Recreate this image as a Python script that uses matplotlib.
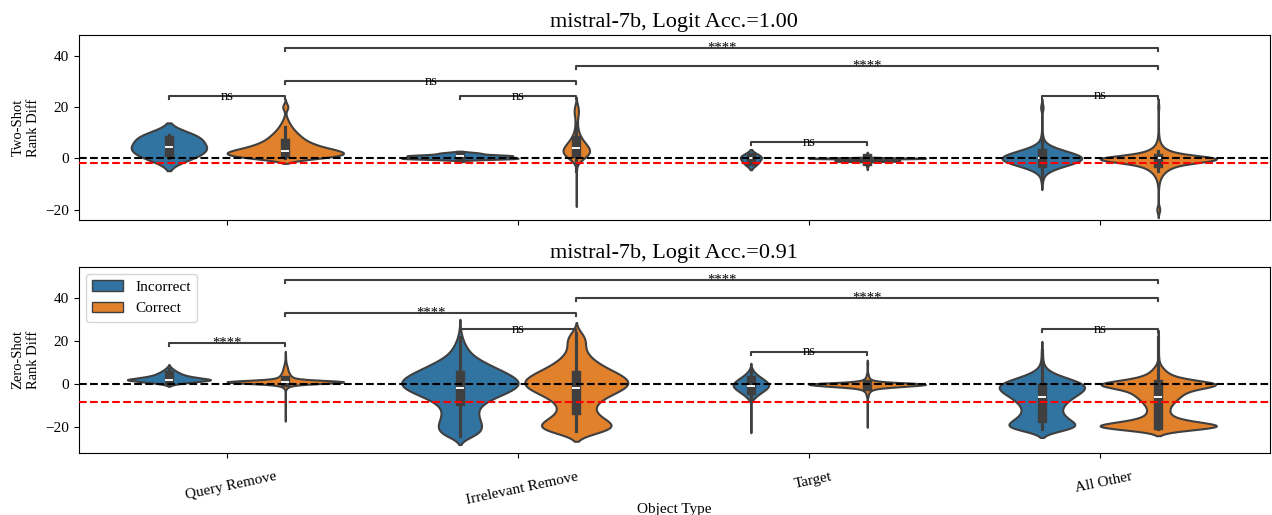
import numpy as np
import pandas as pd
import matplotlib
matplotlib.use("Agg")
import matplotlib.pyplot as plt
import matplotlib.transforms as mtransforms
import seaborn as sns
from matplotlib.patches import Patch

# ---------------- data ----------------
categories = ["Query Remove", "Irrelevant Remove", "Target", "All Other"]
hue_levels = ["Incorrect", "Correct"]
base_colors = ["#1f77b4", "#ff7f0e"]

titles = ["mistral-7b, Logit Acc.=1.00", "mistral-7b, Logit Acc.=0.91"]
ylabels = ["Two-Shot\nRank Diff", "Zero-Shot\nRank Diff"]
ref_lines = [-1.7, -8.5]          # red dashed reference values

# Two-shot (top panel): values and their observation counts
two_qr_inc_vals = [0, 2, 4, 5, 8, 9]
two_qr_inc_counts = [1, 1, 1, 1, 1, 1]
two_qr_cor_vals = [0, 1, 2, 3, 4, 5, 6, 7, 8, 9, 10, 11, 12, 13, 14, 15, 16, 17, 19, 20, 21]
two_qr_cor_counts = [120, 180, 200, 170, 130, 100, 80, 64, 54, 44, 36, 28, 22, 16, 12, 8, 4, 2, 6, 12, 6]
two_ir_inc_vals = [0, 1, 2]
two_ir_inc_counts = [9, 8, 3]
two_ir_cor_vals = [-16, -12, -8, -5, -3, -2, -1, 0, 1, 2, 3, 4, 5, 6, 7, 8, 9, 10, 11, 12,
                   13, 14, 15, 16, 17, 18, 19, 20, 21]
two_ir_cor_counts = [2, 2, 2, 2, 2, 8, 32, 60, 96, 116, 120, 108, 92, 72, 56, 40, 28, 22, 16, 12,
                     10, 9, 9, 12, 16, 20, 20, 16, 10]
two_tg_inc_vals = [-2, 0, 1]
two_tg_inc_counts = [1, 1, 1]
two_tg_cor_vals = [-4, -3, -2, -1, 0, 1, 2]
two_tg_cor_counts = [2, 5, 15, 170, 300, 8, 3]
two_ao_inc_vals = [-10, -9, -8, -7, -6, -5, -4, -3, -2, -1, 0, 1, 2, 3, 4, 5, 6, 7, 8, 9, 10,
                   12, 19, 20, 21]
two_ao_inc_counts = [1, 1, 2, 3, 6, 12, 22, 35, 50, 62, 66, 62, 50, 35, 22, 12, 6, 3, 2, 1, 1,
                     1, 2, 3, 1]
two_ao_cor_vals = [-21, -20, -19, -12, -11, -10, -9, -8, -7, -6, -5, -4, -3, -2, -1, 0, 1, 2, 3,
                   4, 5, 6, 7, 8, 9, 10, 12, 14, 19, 20, 21]
two_ao_cor_counts = [2, 6, 3, 1, 1, 2, 3, 5, 8, 12, 18, 27, 40, 60, 135, 210, 70, 40, 24,
                     14, 8, 5, 3, 2, 1, 1, 1, 1, 1, 2, 1]

# Zero-shot (bottom panel)
zero_qr_inc_vals = [0, 1, 2, 3, 4, 5, 6, 7, 8]
zero_qr_inc_counts = [12, 50, 90, 55, 32, 22, 14, 8, 3]
zero_qr_cor_vals = [-16, -10, -5, -2, -1, 0, 1, 2, 3, 4, 5, 6, 7, 8, 9, 10, 11, 12, 13, 14]
zero_qr_cor_counts = [1, 1, 1, 5, 15, 60, 350, 60, 30, 22, 16, 12, 10, 8, 5, 3, 2, 1, 1, 1]
zero_ir_inc_vals = [-24, -22, -20, -18, -16, -14, -12, -10, -8, -6, -4, -2, 0, 2, 4, 6, 8, 10,
                    12, 14, 16, 18, 20, 22, 24, 26]
zero_ir_inc_counts = [80, 95, 100, 95, 85, 80, 80, 90, 120, 160, 210, 250, 270, 260, 230, 190,
                      150, 110, 75, 50, 35, 25, 15, 10, 4, 3]
zero_ir_cor_vals = [-22, -20, -18, -16, -14, -12, -10, -8, -6, -4, -2, 0, 2, 4, 6, 8, 10, 12,
                    14, 16, 18, 20, 22, 24]
zero_ir_cor_counts = [170, 185, 165, 120, 90, 80, 85, 100, 135, 180, 225, 250, 240, 210, 170,
                      125, 95, 70, 50, 40, 40, 45, 40, 25]
zero_tg_inc_vals = [-20, -14, -7, -6, -5, -4, -3, -2, -1, 0, 1, 2, 3, 4, 5, 6, 7]
zero_tg_inc_counts = [1, 1, 2, 4, 6, 9, 12, 15, 17, 17, 15, 12, 9, 6, 4, 2, 1]
zero_tg_cor_vals = [-19, -15, -10, -6, -5, -4, -3, -2, -1, 0, 1, 2, 3, 4, 5, 7, 9, 10]
zero_tg_cor_counts = [1, 1, 1, 2, 3, 5, 10, 25, 110, 200, 35, 10, 5, 3, 2, 1, 1, 1]
zero_ao_inc_vals = [-21, -20, -18, -16, -14, -12, -10, -8, -6, -4, -2, 0, 2, 4, 6, 8, 10, 12,
                    14, 16]
zero_ao_inc_counts = [60, 112, 104, 80, 64, 60, 68, 80, 100, 124, 144, 140, 100, 50, 20, 8, 4,
                      2, 2, 2]
zero_ao_cor_vals = [-21, -20, -19, -18, -17, -16, -15, -14, -13, -12, -11, -10, -9, -8, -7, -6,
                    -5, -4, -3, -2, -1, 0, 1, 2, 3, 4, 5, 6, 7, 8, 9, 11, 13, 16, 19, 22]
zero_ao_cor_counts = [250, 950, 550, 320, 200, 140, 110, 95, 90, 90, 95, 105, 120, 140, 160,
                      180, 200, 220, 250, 300, 420, 900, 330, 220, 150, 110, 80, 60, 45, 30,
                      20, 10, 6, 4, 3, 2]

# significance annotations: (category, hue, category, hue, label)
two_sig = [("Query Remove", "Incorrect", "Query Remove", "Correct", "ns"),
           ("Query Remove", "Correct", "Irrelevant Remove", "Correct", "ns"),
           ("Irrelevant Remove", "Incorrect", "Irrelevant Remove", "Correct", "ns"),
           ("Irrelevant Remove", "Correct", "All Other", "Correct", "****"),
           ("Query Remove", "Correct", "All Other", "Correct", "****"),
           ("Target", "Incorrect", "Target", "Correct", "ns"),
           ("All Other", "Incorrect", "All Other", "Correct", "ns")]
zero_sig = [("Query Remove", "Incorrect", "Query Remove", "Correct", "****"),
            ("Query Remove", "Correct", "Irrelevant Remove", "Correct", "****"),
            ("Irrelevant Remove", "Incorrect", "Irrelevant Remove", "Correct", "ns"),
            ("Irrelevant Remove", "Correct", "All Other", "Correct", "****"),
            ("Query Remove", "Correct", "All Other", "Correct", "****"),
            ("Target", "Incorrect", "Target", "Correct", "ns"),
            ("All Other", "Incorrect", "All Other", "Correct", "ns")]

# ---------------- build frames ----------------
def frame(groups):
    parts = []
    for cat, lvl, vals, cnts in groups:
        v = np.repeat(np.asarray(vals, dtype=float), cnts)
        parts.append(pd.DataFrame({"Object Type": cat, "Label": lvl, "Rank Diff": v}))
    return pd.concat(parts, ignore_index=True)

df_two = frame([
    ("Query Remove", "Incorrect", two_qr_inc_vals, two_qr_inc_counts),
    ("Query Remove", "Correct", two_qr_cor_vals, two_qr_cor_counts),
    ("Irrelevant Remove", "Incorrect", two_ir_inc_vals, two_ir_inc_counts),
    ("Irrelevant Remove", "Correct", two_ir_cor_vals, two_ir_cor_counts),
    ("Target", "Incorrect", two_tg_inc_vals, two_tg_inc_counts),
    ("Target", "Correct", two_tg_cor_vals, two_tg_cor_counts),
    ("All Other", "Incorrect", two_ao_inc_vals, two_ao_inc_counts),
    ("All Other", "Correct", two_ao_cor_vals, two_ao_cor_counts),
])
df_zero = frame([
    ("Query Remove", "Incorrect", zero_qr_inc_vals, zero_qr_inc_counts),
    ("Query Remove", "Correct", zero_qr_cor_vals, zero_qr_cor_counts),
    ("Irrelevant Remove", "Incorrect", zero_ir_inc_vals, zero_ir_inc_counts),
    ("Irrelevant Remove", "Correct", zero_ir_cor_vals, zero_ir_cor_counts),
    ("Target", "Incorrect", zero_tg_inc_vals, zero_tg_inc_counts),
    ("Target", "Correct", zero_tg_cor_vals, zero_tg_cor_counts),
    ("All Other", "Incorrect", zero_ao_inc_vals, zero_ao_inc_counts),
    ("All Other", "Correct", zero_ao_cor_vals, zero_ao_cor_counts),
])

# ---------------- plot ----------------
plt.rcParams["font.family"] = ["Liberation Serif", "DejaVu Serif"]
plt.rcParams["font.size"] = 11

fig = plt.figure(figsize=(12.72, 5.15), dpi=100)
W, H = 1272.0, 515.0
left, right = 78.7 / W, 1270.0 / W
ax1 = fig.add_axes([left, 1 - 220 / H, right - left, (220 - 35) / H])
ax2 = fig.add_axes([left, 1 - 452.7 / H, right - left, (452.7 - 266.7) / H])

edge = "#3f3f3f"
dodge_off = {"Incorrect": -0.2, "Correct": 0.2}

def xpos(cat, lvl):
    return categories.index(cat) + dodge_off[lvl]

bracket_y = {
    0: [24.2, 30.0, 24.2, 36.0, 43.0, 6.2, 24.3],
    1: [19.3, 33.0, 25.5, 40.2, 48.5, 15.1, 25.5],
}
tick_h = [1.2, 1.4]
ylims = [(-24, 48), (-32, 54.7)]

for i, (ax, df, sig) in enumerate([(ax1, df_two, two_sig), (ax2, df_zero, zero_sig)]):
    # one call per category: the two hue violins share one area scaling
    for cat in categories:
        sub = df[df["Object Type"] == cat]
        sns.violinplot(data=sub, x="Object Type", y="Rank Diff", hue="Label",
                       order=categories, hue_order=hue_levels, palette=base_colors,
                       common_norm=True, linewidth=1.5, ax=ax, legend=False)
    if ax.get_legend() is not None:
        ax.get_legend().remove()
    ax.axhline(0, color="black", ls="--", lw=1.5, zorder=3)
    ax.axhline(ref_lines[i], color="red", ls="--", lw=1.5, zorder=3)
    for (c1, h1, c2, h2, lab), y in zip(sig, bracket_y[i]):
        x1, x2 = xpos(c1, h1), xpos(c2, h2)
        ax.plot([x1, x1, x2, x2], [y - tick_h[i], y, y, y - tick_h[i]],
                color=edge, lw=1.5, zorder=4)
        ax.text((x1 + x2) / 2, y, lab, ha="center", va="center", fontsize=10.5, zorder=5)
    ax.set_xlim(-0.51, 3.584)
    ax.set_ylim(*ylims[i])
    ax.set_yticks([-20, 0, 20, 40])
    ax.set_title(titles[i], fontsize=16)
    ax.set_ylabel(ylabels[i], fontsize=10.5)

ax1.set_xlabel("")
ax1.tick_params(labelbottom=False)
ax2.tick_params(axis="x", pad=9)
ax2.set_xlabel("Object Type", fontsize=11)
ax2.xaxis.set_label_coords(0.5, -0.268)
shift = mtransforms.ScaledTranslation(4 / 100, 0, fig.dpi_scale_trans)
for lbl in ax2.get_xticklabels():
    lbl.set_rotation(12)
    lbl.set_transform(lbl.get_transform() + shift)

leg_colors = [sns.desaturate(c, 0.75) for c in base_colors]
handles = [Patch(facecolor=c, edgecolor=edge, lw=1.0) for c in leg_colors]
ax2.legend(handles, hue_levels, loc="upper left", fontsize=11)

fig.savefig("out.png", dpi=100)
